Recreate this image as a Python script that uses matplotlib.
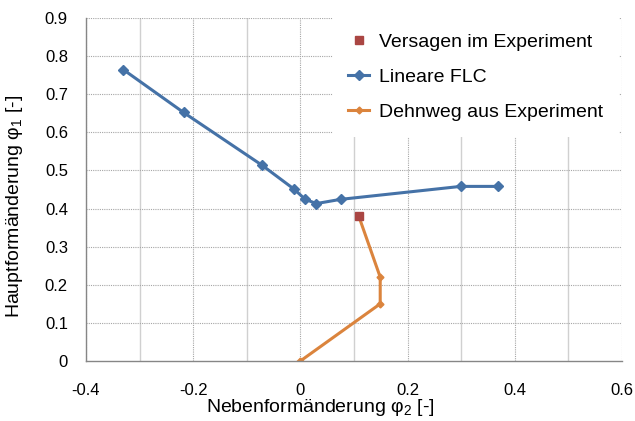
import numpy as np
import matplotlib.pyplot as plt

plt.rcParams['font.family'] = ['Liberation Sans', 'DejaVu Sans']
plt.rcParams['mathtext.fontset'] = 'custom'
plt.rcParams['mathtext.rm'] = 'Liberation Sans'
plt.rcParams['mathtext.it'] = 'Liberation Sans'

# Lineare FLC
flc_x = [-0.330, -0.218, -0.071, -0.011, 0.009, 0.030, 0.075, 0.299, 0.368]
flc_y = [0.764, 0.652, 0.513, 0.450, 0.424, 0.413, 0.424, 0.458, 0.458]

# Dehnweg aus Experiment
weg_x = [0.0, 0.149, 0.149, 0.109]
weg_y = [0.0, 0.150, 0.220, 0.380]

# Versagen im Experiment
fail_x = [0.109]
fail_y = [0.380]

blue = '#4572a7'
orange = '#db843d'
red = '#aa4643'

fig = plt.figure(figsize=(6.35, 4.21), dpi=100)
ax = fig.add_axes([0.1354, 0.1425, 0.844, 0.815])

# Gitter: gepunktet bei Hauptticks, durchgezogen dazwischen
for gx in np.arange(-0.4, 0.61, 0.2):
    ax.axvline(gx, color='#a6a6a6', lw=0.8, ls=(0, (1, 1)), zorder=0)
for gx in np.arange(-0.3, 0.61, 0.2):
    ax.axvline(gx, color='#d0d0d0', lw=1.0, zorder=0)
for gy in np.arange(0.1, 0.91, 0.1):
    ax.axhline(gy, color='#a6a6a6', lw=0.8, ls=(0, (1, 1)), zorder=0)

ax.plot(fail_x, fail_y, ls='none', marker='s', ms=6, color=red,
        label='Versagen im Experiment', zorder=4)
ax.plot(flc_x, flc_y, color=blue, lw=2.2, marker='D', ms=5.5,
        label='Lineare FLC', zorder=3)
ax.plot(weg_x, weg_y, color=orange, lw=2.2, marker='D', ms=3.5,
        label='Dehnweg aus Experiment', zorder=2)

ax.set_xlim(-0.4, 0.6)
ax.set_ylim(0, 0.9)
ax.set_xticks(np.arange(-0.4, 0.61, 0.2))
ax.set_xticklabels(['-0.4', '-0.2', '0', '0.2', '0.4', '0.6'])
ax.set_yticks(np.arange(0, 0.91, 0.1))
ax.set_yticklabels(['0', '0.1', '0.2', '0.3', '0.4', '0.5', '0.6', '0.7', '0.8', '0.9'])
ax.tick_params(axis='x', length=0, labelsize=12, pad=16)
ax.tick_params(axis='y', length=0, labelsize=12, pad=13)

for s in ['top', 'right']:
    ax.spines[s].set_visible(False)
for s in ['left', 'bottom']:
    ax.spines[s].set_color('#868686')
    ax.spines[s].set_linewidth(1.0)

ax.set_xlabel('Nebenformänderung φ$_2$ [-]', fontsize=14)
ax.set_ylabel('Hauptformänderung φ$_1$ [-]', fontsize=14)
ax.xaxis.set_label_coords(0.438, -0.105)
ax.yaxis.set_label_coords(-0.113, 0.45)

leg = ax.legend(loc='upper left', bbox_to_anchor=(0.46, 1.0), fontsize=14,
                frameon=True, fancybox=False, edgecolor='none',
                facecolor='white', framealpha=1, handlelength=1.1,
                handletextpad=0.5, borderaxespad=0, labelspacing=0.9,
                borderpad=0.8)

fig.savefig('out.png', dpi=100)
